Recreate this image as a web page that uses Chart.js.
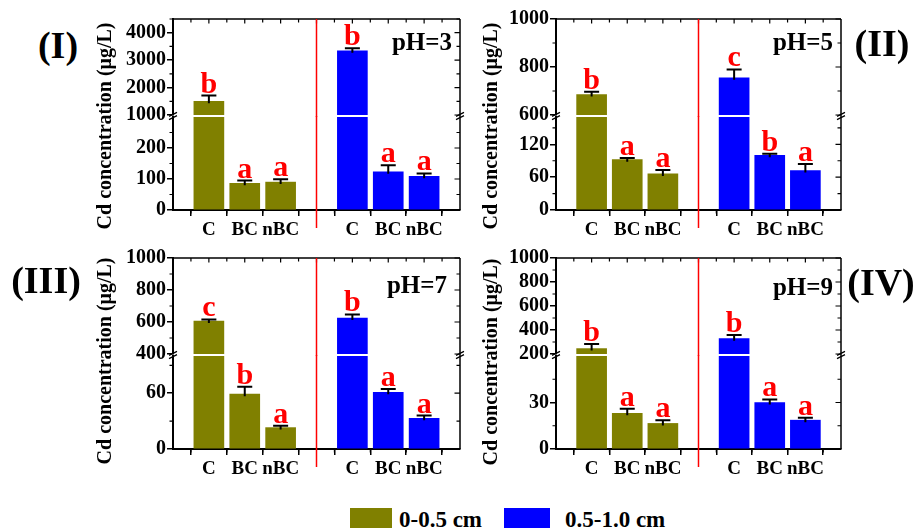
<!DOCTYPE html>
<html><head><meta charset="utf-8">
<script src="https://cdn.jsdelivr.net/npm/chart.js@4.4.1/dist/chart.umd.min.js"></script>
<style>
body{margin:0;background:#fff;}
#wrap{position:relative;width:921px;height:530px;overflow:hidden;font-family:"Liberation Serif","Times New Roman",serif;font-weight:bold;color:#000;background:#fff;}
canvas{position:absolute;}
.t{position:absolute;white-space:nowrap;line-height:1;}
.sw{position:absolute;}
</style></head><body><div id="wrap"></div>
<script>
// ---------------- data ----------------
const categories = ['C', 'BC', 'nBC'];
const seriesNames = ['0-0.5 cm', '0.5-1.0 cm'];
const panelTitles = ['(I)', '(II)', '(III)', '(IV)'];
const phLabels = ['pH=3', 'pH=5', 'pH=7', 'pH=9'];
const yAxisTitle = 'Cd concentration (\u03bcg/L)';

// pH = 3
const pH3_shallow = [1500, 86, 90];
const pH3_shallowErr = [210, 9, 9];
const pH3_deep = [3340, 123, 109];
const pH3_deepErr = [90, 21, 9];
const pH3_shallowLetters = ['b', 'a', 'a'];
const pH3_deepLetters = ['b', 'a', 'a'];
const pH3_upperRange = [1000, 4500];
const pH3_lowerRange = [0, 300];
const pH3_upperTicks = [1000, 2000, 3000, 4000];
const pH3_upperMinor = [1500, 2500, 3500, 4500];
const pH3_lowerTicks = [0, 100, 200];
const pH3_lowerMinor = [50, 150, 250];

// pH = 5
const pH5_shallow = [685, 92, 66];
const pH5_shallowErr = [12, 3, 7];
const pH5_deep = [755, 100, 72];
const pH5_deepErr = [35, 3, 12];
const pH5_shallowLetters = ['b', 'a', 'a'];
const pH5_deepLetters = ['c', 'b', 'a'];
const pH5_upperRange = [600, 1000];
const pH5_lowerRange = [0, 170];
const pH5_upperTicks = [600, 800, 1000];
const pH5_upperMinor = [700, 900];
const pH5_lowerTicks = [0, 60, 120];
const pH5_lowerMinor = [30, 90, 150];

// pH = 7
const pH7_shallow = [606, 59, 23];
const pH7_shallowErr = [10, 8, 2];
const pH7_deep = [625, 61, 33];
const pH7_deepErr = [22, 3.5, 3];
const pH7_shallowLetters = ['c', 'b', 'a'];
const pH7_deepLetters = ['b', 'a', 'a'];
const pH7_upperRange = [400, 1000];
const pH7_lowerRange = [0, 100];
const pH7_upperTicks = [400, 600, 800, 1000];
const pH7_upperMinor = [500, 700, 900];
const pH7_lowerTicks = [0, 60];
const pH7_lowerMinor = [30, 90];

// pH = 9
const pH9_shallow = [245, 23, 16.5];
const pH9_shallowErr = [38, 3, 2];
const pH9_deep = [328, 30, 18.6];
const pH9_deepErr = [30, 2, 1.5];
const pH9_shallowLetters = ['b', 'a', 'a'];
const pH9_deepLetters = ['b', 'a', 'a'];
const pH9_upperRange = [200, 1000];
const pH9_lowerRange = [0, 60];
const pH9_upperTicks = [200, 400, 600, 800, 1000];
const pH9_upperMinor = [300, 500, 700, 900];
const pH9_lowerTicks = [0, 30];
const pH9_lowerMinor = [15, 45];

// ---------------- assembly ----------------
const panelData = [
  {shallow: pH3_shallow, sErr: pH3_shallowErr, deep: pH3_deep, dErr: pH3_deepErr, sL: pH3_shallowLetters, dL: pH3_deepLetters,
   upR: pH3_upperRange, loR: pH3_lowerRange, upT: pH3_upperTicks, upM: pH3_upperMinor, loT: pH3_lowerTicks, loM: pH3_lowerMinor},
  {shallow: pH5_shallow, sErr: pH5_shallowErr, deep: pH5_deep, dErr: pH5_deepErr, sL: pH5_shallowLetters, dL: pH5_deepLetters,
   upR: pH5_upperRange, loR: pH5_lowerRange, upT: pH5_upperTicks, upM: pH5_upperMinor, loT: pH5_lowerTicks, loM: pH5_lowerMinor},
  {shallow: pH7_shallow, sErr: pH7_shallowErr, deep: pH7_deep, dErr: pH7_deepErr, sL: pH7_shallowLetters, dL: pH7_deepLetters,
   upR: pH7_upperRange, loR: pH7_lowerRange, upT: pH7_upperTicks, upM: pH7_upperMinor, loT: pH7_lowerTicks, loM: pH7_lowerMinor},
  {shallow: pH9_shallow, sErr: pH9_shallowErr, deep: pH9_deep, dErr: pH9_deepErr, sL: pH9_shallowLetters, dL: pH9_deepLetters,
   upR: pH9_upperRange, loR: pH9_lowerRange, upT: pH9_upperTicks, upM: pH9_upperMinor, loT: pH9_lowerTicks, loM: pH9_lowerMinor}
];

// plot-area geometry (page pixels)
const layouts = [
  {left: 173, right: 460, top: 19, brk: 115, lowTop: 117, bottom: 210},
  {left: 556, right: 841, top: 19, brk: 115, lowTop: 117, bottom: 210},
  {left: 173, right: 460, top: 258, brk: 354, lowTop: 356, bottom: 449},
  {left: 556, right: 841, top: 258, brk: 354, lowTop: 356, bottom: 449}
];

const OLIVE = '#808000', BLUE = '#0000ff', RED = '#ff0000';
const SERIF = '"Liberation Serif","Times New Roman",serif';
Chart.defaults.font.family = SERIF;
Chart.defaults.font.weight = 'bold';
Chart.defaults.font.size = 19;
Chart.defaults.color = '#000';

const xLabels = ['', ...categories, '', ...categories, ''];
const wrap = document.getElementById('wrap');

function deco(p, isUp) {
  return {
    id: 'deco',
    afterDraw(chart) {
      const {ctx, chartArea: a} = chart;
      const xs = chart.scales.x, ys = chart.scales.y;
      const d = panelData[p];
      const major = isUp ? d.upT : d.loT;
      const minor = isUp ? d.upM : d.loM;
      const ymin = ys.min, ymax = ys.max;
      ctx.save();
      ctx.strokeStyle = '#000';
      // frame
      ctx.lineWidth = 1.5;
      ctx.beginPath();
      if (isUp) {
        ctx.moveTo(a.left - 1, a.top); ctx.lineTo(a.right, a.top);
        ctx.moveTo(a.right, a.top); ctx.lineTo(a.right, a.bottom + 1);
      } else {
        ctx.moveTo(a.right, a.top - 1); ctx.lineTo(a.right, a.bottom);
      }
      ctx.stroke();
      // y minor ticks (left outward) and mirrored ticks (right inward)
      ctx.lineWidth = 1.2;
      ctx.beginPath();
      minor.forEach(v => {
        if (v < ymin || v > ymax) return;
        const y = ys.getPixelForValue(v);
        ctx.moveTo(a.left - 3.5, y); ctx.lineTo(a.left, y);
        ctx.moveTo(a.right - 3.5, y); ctx.lineTo(a.right, y);
      });
      major.forEach(v => {
        const y = ys.getPixelForValue(v);
        ctx.moveTo(a.right - 5.5, y); ctx.lineTo(a.right, y);
      });
      // x ticks
      for (let i = 0.5; i < 8; i += 0.5) {
        const x = xs.getPixelForValue(i);
        const isMajor = Number.isInteger(i);
        if (isUp) {
          ctx.moveTo(x, a.top); ctx.lineTo(x, a.top + (isMajor ? 4.5 : 3.5));
        } else if (!isMajor) {
          ctx.moveTo(x, a.bottom); ctx.lineTo(x, a.bottom + 3.5);
        }
      }
      ctx.stroke();
      // break marks
      if (!isUp) {
        const y0 = a.top - 1;
        ctx.lineWidth = 1.3;
        ctx.beginPath();
        [a.left, a.right].forEach(xe => {
          [-1.7, 1.7].forEach(dy => {
            ctx.moveTo(xe - 4, y0 + dy + 2); ctx.lineTo(xe + 4, y0 + dy - 2);
          });
        });
        ctx.stroke();
      }
      // red divider
      const xd = xs.getPixelForValue(4);
      ctx.strokeStyle = RED;
      ctx.lineWidth = 1.5;
      ctx.beginPath();
      if (isUp) { ctx.moveTo(xd, a.top); ctx.lineTo(xd, a.bottom + 2); }
      else { ctx.moveTo(xd, a.top - 1); ctx.lineTo(xd, a.bottom + 18); }
      ctx.stroke();
      // error bars and letters
      const groups = [
        {vals: d.shallow, errs: d.sErr, letters: d.sL, off: 1},
        {vals: d.deep, errs: d.dErr, letters: d.dL, off: 5}
      ];
      groups.forEach(g => {
        g.vals.forEach((v, j) => {
          if (v < ymin || v > ymax) return;
          const x = xs.getPixelForValue(g.off + j);
          const yb = ys.getPixelForValue(v);
          const yt = ys.getPixelForValue(v + g.errs[j]);
          ctx.strokeStyle = '#000';
          ctx.lineWidth = 2;
          ctx.beginPath();
          ctx.moveTo(x, yb + 2); ctx.lineTo(x, yt);
          ctx.moveTo(x - 7.5, yt); ctx.lineTo(x + 7.5, yt);
          ctx.stroke();
          ctx.fillStyle = RED;
          ctx.font = 'bold 30px ' + SERIF;
          ctx.textAlign = 'center';
          ctx.textBaseline = 'alphabetic';
          ctx.fillText(g.letters[j], x, yt - 3);
        });
      });
      ctx.restore();
    }
  };
}

function makePart(p, isUp) {
  const L = layouts[p], d = panelData[p];
  const areaTop = isUp ? L.top : L.lowTop;
  const areaBot = isUp ? L.brk : L.bottom;
  const PADL = 70, PADT = 16, PADR = 16, PADB = isUp ? 16 : 40;
  const w = (L.right - L.left) + PADL + PADR;
  const h = (areaBot - areaTop) + PADT + PADB;
  const cv = document.createElement('canvas');
  cv.width = w; cv.height = h;
  cv.style.left = (L.left - PADL) + 'px';
  cv.style.top = (areaTop - PADT) + 'px';
  cv.style.width = w + 'px'; cv.style.height = h + 'px';
  wrap.appendChild(cv);
  const range = isUp ? d.upR : d.loR;
  const ticks = isUp ? d.upT : d.loT;
  new Chart(cv, {
    type: 'bar',
    data: {
      labels: xLabels,
      datasets: [
        {label: seriesNames[0], data: [null, ...d.shallow, null, null, null, null, null],
         backgroundColor: OLIVE, grouped: false, barThickness: 30, borderWidth: 0, clip: 0},
        {label: seriesNames[1], data: [null, null, null, null, null, ...d.deep, null],
         backgroundColor: BLUE, grouped: false, barThickness: 30, borderWidth: 0, clip: 0}
      ]
    },
    options: {
      responsive: false, animation: false, devicePixelRatio: 1,
      events: [],
      layout: {padding: {left: 0, top: PADT, right: PADR, bottom: isUp ? PADB : 0}},
      plugins: {legend: {display: false}, tooltip: {enabled: false}},
      scales: {
        x: {
          display: !isUp, offset: false,
          grid: {display: true, drawOnChartArea: false, drawTicks: true, tickLength: 6, color: '#000', lineWidth: 1.5},
          border: {display: true, color: '#000', width: 2},
          ticks: {autoSkip: false, maxRotation: 0, minRotation: 0, padding: 3, color: '#000', font: {size: 19, weight: 'bold'}},
          afterFit(s) { s.height = isUp ? 0 : PADB; }
        },
        y: {
          min: range[0], max: range[1],
          afterBuildTicks(s) { s.ticks = ticks.map(v => ({value: v})); },
          afterFit(s) { s.width = PADL; },
          grid: {drawOnChartArea: false, drawTicks: true, tickLength: 6, color: '#000', lineWidth: 1.5},
          border: {display: true, color: '#000', width: 2},
          ticks: {autoSkip: false, padding: 1, color: '#000', font: {size: 20, weight: 'bold'}, callback: v => String(v)}
        }
      }
    },
    plugins: [deco(p, isUp)]
  });
}

for (let p = 0; p < 4; p++) { makePart(p, true); makePart(p, false); }

// ---------------- text ----------------
function addText(txt, css) {
  const el = document.createElement('div');
  el.className = 't';
  el.textContent = txt;
  Object.assign(el.style, css);
  wrap.appendChild(el);
  return el;
}
const romanPos = [[58, 45], [882, 43], [46, 280], [881, 282]];
panelTitles.forEach((t, i) => addText(t, {left: romanPos[i][0] + 'px', top: romanPos[i][1] + 'px', fontSize: '38px', transform: 'translate(-50%,-50%)'}));

const phPos = [[452, 50], [833, 50], [447, 293], [833, 295]];
phLabels.forEach((t, i) => addText(t, {right: (921 - phPos[i][0]) + 'px', top: (phPos[i][1] - 21) + 'px', fontSize: '25px'}));

const ytPos = [[103.5, 125.5], [489.5, 125.5], [103.5, 361], [489.5, 362]];
ytPos.forEach(pp => addText(yAxisTitle, {left: pp[0] + 'px', top: pp[1] + 'px', fontSize: '20px', transform: 'translate(-50%,-50%) rotate(-90deg)'}));

// legend
const swatches = [[350, 508, 42, 20, OLIVE], [504, 508, 46, 20, BLUE]];
const legText = [[399, 527], [565, 527]];
seriesNames.forEach((n, i) => {
  const s = document.createElement('div');
  s.className = 'sw';
  Object.assign(s.style, {left: swatches[i][0] + 'px', top: swatches[i][1] + 'px', width: swatches[i][2] + 'px', height: swatches[i][3] + 'px', background: swatches[i][4]});
  wrap.appendChild(s);
  addText(n, {left: legText[i][0] + 'px', top: (legText[i][1] - 19) + 'px', fontSize: '23px'});
});
</script></body></html>
